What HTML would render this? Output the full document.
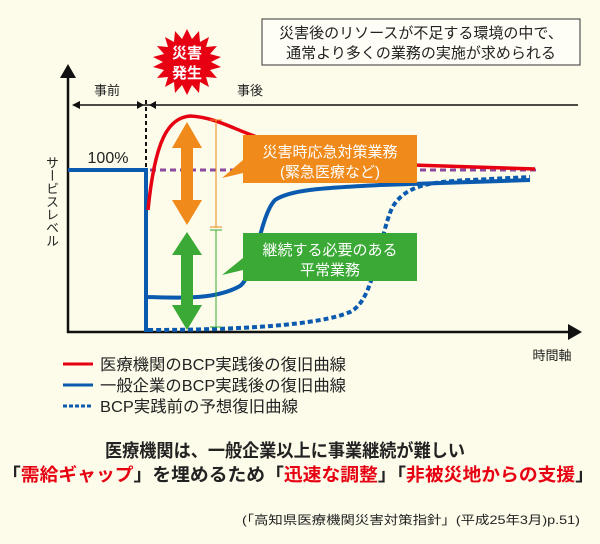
<!DOCTYPE html>
<html><head><meta charset="utf-8"><style>
body{margin:0;background:#fdfbe9;position:relative;width:600px;height:544px;overflow:hidden;}
svg{display:block;font-family:"Liberation Sans","Noto Sans CJK JP",sans-serif;}
.vt{position:absolute;left:44px;top:156px;writing-mode:vertical-rl;font-family:"Noto Sans CJK JP",sans-serif;font-size:13px;color:#222;line-height:16px;}
</style></head><body>
<svg width="600" height="544" viewBox="0 0 600 544">
<rect width="600" height="544" fill="#fdfbe9"/>
<rect x="262" y="19" width="318" height="46" fill="#fffef6" stroke="#333" stroke-width="1"/>
<text x="421" y="38" font-size="15" text-anchor="middle" fill="#222">災害後のリソースが不足する環境の中で、</text>
<text x="421" y="58" font-size="15" text-anchor="middle" fill="#222">通常より多くの業務の実施が求められる</text>
<polygon fill="#e60012" points="
187,29 192,39 199,31 200,42 209,37 206,47 217,46 210,54 221,57 211,62 221,67 210,70 217,78 206,77 209,87 200,82 199,93 192,85 187,95 182,85 175,93 174,82 165,87 168,77 157,78 164,70 153,67 163,62 153,57 164,54 157,46 168,47 165,37 174,42 175,31 182,39"/>
<text x="187" y="58" font-size="15" font-weight="bold" fill="#fff" text-anchor="middle">災害</text>
<text x="187" y="78" font-size="15" font-weight="bold" fill="#fff" text-anchor="middle">発生</text>
<line x1="68" y1="75" x2="68" y2="333" stroke="#111" stroke-width="2.5"/>
<polygon points="68,64 60,78 76,78" fill="#111"/>
<line x1="67" y1="332" x2="570" y2="332" stroke="#111" stroke-width="2.5"/>
<polygon points="582,332 568,324 568,340" fill="#111"/>
<text x="552" y="360" font-size="13" text-anchor="middle" fill="#222">時間軸</text>
<line x1="74" y1="105" x2="578" y2="105" stroke="#111" stroke-width="1.5"/>
<polygon points="72,105 80,101 80,109" fill="#111"/>
<polygon points="144,105 137,101 137,109" fill="#111"/>
<polygon points="149,105 156,101 156,109" fill="#111"/>
<text x="107" y="95" font-size="13" text-anchor="middle" fill="#222">事前</text>
<text x="250" y="95" font-size="13" text-anchor="middle" fill="#222">事後</text>
<line x1="146" y1="100" x2="146" y2="170" stroke="#111" stroke-width="2" stroke-dasharray="4,3"/>
<text x="108" y="163" font-size="16" text-anchor="middle" fill="#222">100%</text>
<line x1="150" y1="170" x2="540" y2="170" stroke="#8b4aa0" stroke-width="3" stroke-dasharray="6,4"/>
<path d="M68,170 H146 V332" fill="none" stroke="#0a5bb0" stroke-width="4"/>
<path d="M148,330 C240,330 320,325 350,312 C375,300 378,240 392,208 C405,185 430,182 470,180 L530,177" fill="none" stroke="#0a5bb0" stroke-width="4" stroke-dasharray="5,3"/>
<path d="M148,297 C180,298 215,300 240,286 C255,275 260,215 275,200 C290,190 320,188 380,185 L530,180" fill="none" stroke="#0a5bb0" stroke-width="4"/>
<path d="M148,210 C155,140 168,118 190,116 C215,117 235,130 260,138 C290,150 320,160 380,164 L535,169" fill="none" stroke="#e60012" stroke-width="3.5"/>
<line x1="216" y1="120" x2="216" y2="228" stroke="#ef8a1b" stroke-width="1"/>
<line x1="210" y1="120" x2="222" y2="120" stroke="#ef8a1b" stroke-width="1"/>
<line x1="210" y1="227" x2="222" y2="227" stroke="#ef8a1b" stroke-width="1"/>
<line x1="216" y1="230" x2="216" y2="327" stroke="#3aa935" stroke-width="1"/>
<line x1="210" y1="230" x2="222" y2="230" stroke="#3aa935" stroke-width="1"/>
<line x1="210" y1="327" x2="222" y2="327" stroke="#3aa935" stroke-width="1"/>
<polygon fill="#ef8a1b" points="187,122 202,148 193,148 193,200 202,200 187,225 172,200 181,200 181,148 172,148"/>
<polygon fill="#3aa935" points="187,232 202,255 193,255 193,305 202,305 187,330 172,305 181,305 181,255 172,255"/>
<polygon fill="#ef8a1b" points="243,135 417,135 417,183 243,183 243,173 222,178 243,160"/>
<text x="330" y="157" font-size="15" text-anchor="middle" fill="#fff">災害時応急対策業務</text>
<text x="330" y="177" font-size="15" text-anchor="middle" fill="#fff">(緊急医療など)</text>
<polygon fill="#3aa935" points="243,233 417,233 417,281 243,281 243,270 222,275 243,258"/>
<text x="330" y="255" font-size="15" text-anchor="middle" fill="#fff">継続する必要のある</text>
<text x="330" y="275" font-size="15" text-anchor="middle" fill="#fff">平常業務</text>
<line x1="63" y1="364" x2="93" y2="364" stroke="#e60012" stroke-width="3"/>
<line x1="63" y1="385" x2="93" y2="385" stroke="#0a5bb0" stroke-width="3"/>
<line x1="63" y1="406" x2="93" y2="406" stroke="#0a5bb0" stroke-width="3" stroke-dasharray="4,2"/>
<text x="100" y="370" font-size="16" fill="#222" textLength="246" lengthAdjust="spacingAndGlyphs">医療機関のBCP実践後の復旧曲線</text>
<text x="100" y="391" font-size="16" fill="#222" textLength="246" lengthAdjust="spacingAndGlyphs">一般企業のBCP実践後の復旧曲線</text>
<text x="100" y="412" font-size="16" fill="#222" textLength="198" lengthAdjust="spacingAndGlyphs">BCP実践前の予想復旧曲線</text>
<text x="105" y="457" font-size="18" font-weight="bold" fill="#222" textLength="360" lengthAdjust="spacingAndGlyphs">医療機関は、一般企業以上に事業継続が難しい</text>
<text x="2" y="481" font-size="18" font-weight="bold" fill="#222" textLength="592" lengthAdjust="spacingAndGlyphs">「<tspan fill="#e60012">需給ギャップ</tspan>」を埋めるため「<tspan fill="#e60012">迅速な調整</tspan>」「<tspan fill="#e60012">非被災地からの支援</tspan>」</text>
<text x="242" y="524" font-size="12" fill="#222" textLength="338" lengthAdjust="spacingAndGlyphs">(「高知県医療機関災害対策指針」(平成25年3月)p.51)</text>
</svg>
<div class="vt">サービスレベル</div>
</body></html>
